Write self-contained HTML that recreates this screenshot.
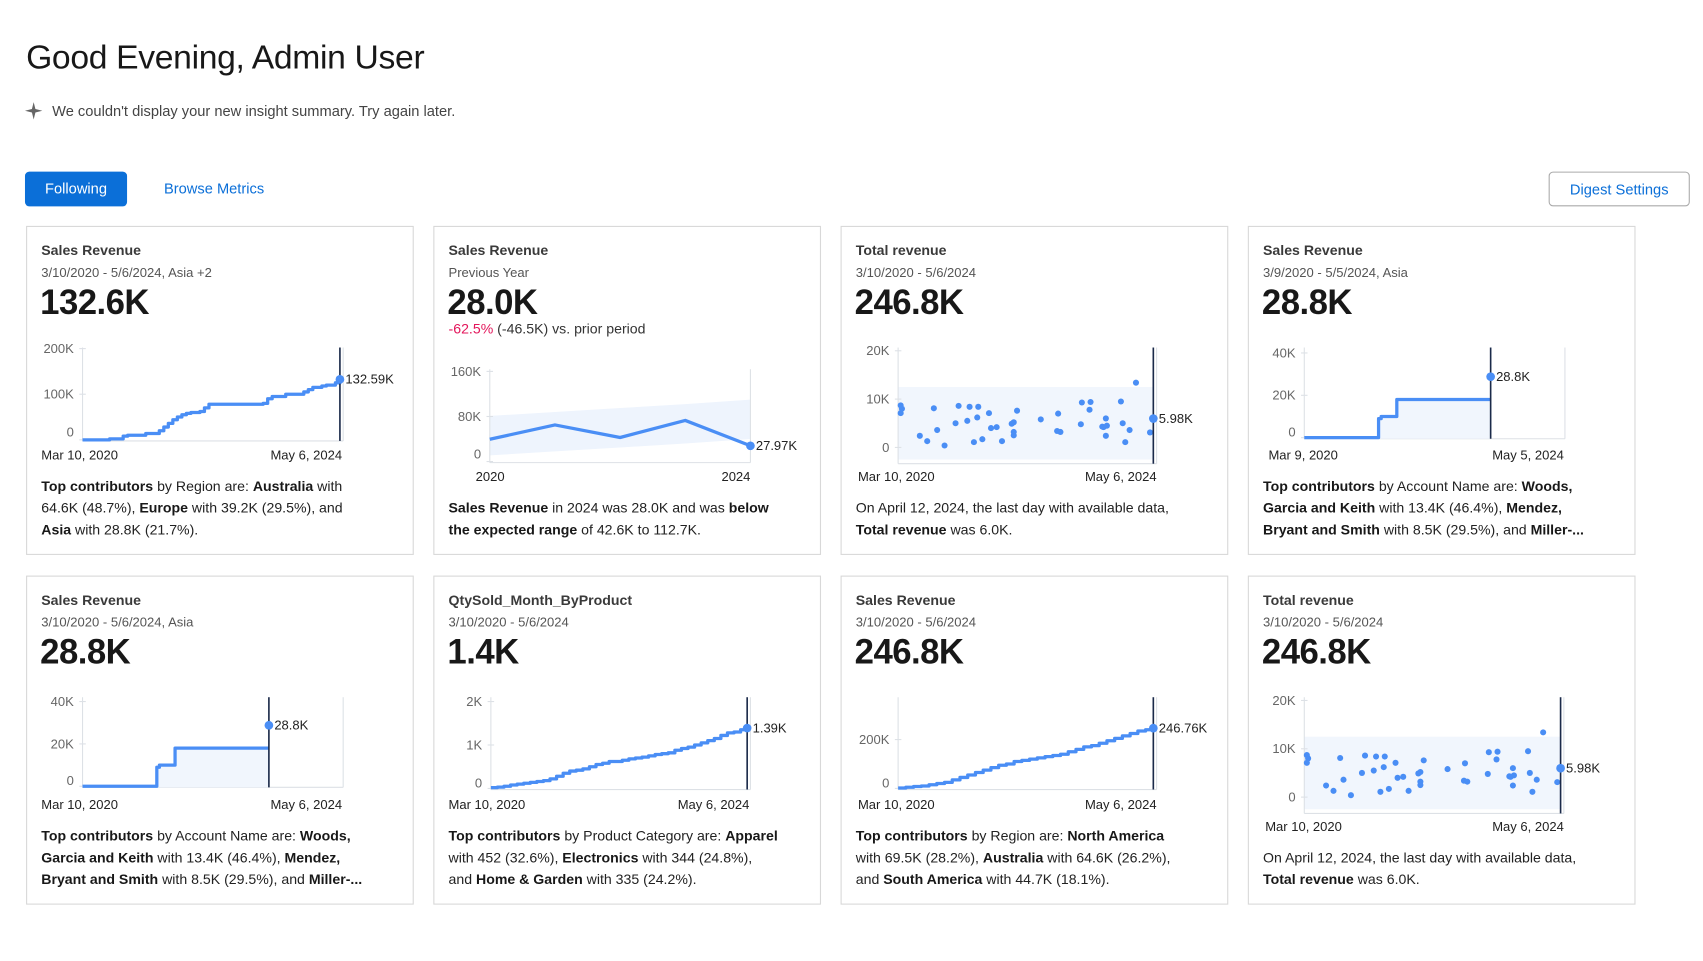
<!DOCTYPE html>
<html><head><meta charset="utf-8">
<style>
html,body{margin:0;padding:0;background:#fff;width:1703px;height:961px;overflow:hidden;}
#wrap{position:absolute;left:0;top:0;width:1570px;height:885px;transform:scale(1.086,1.086);transform-origin:0 0;font-family:"Liberation Sans",Arial,sans-serif;color:#181818;}
.abs{position:absolute;}
h1{position:absolute;left:24px;top:35px;margin:0;font-size:31px;font-weight:400;color:#181818;letter-spacing:-0.3px;}
.note{left:48px;top:95px;font-size:13.5px;color:#444;}
.btn{top:158px;height:32px;line-height:32px;font-size:13.5px;border-radius:4px;text-align:center;box-sizing:border-box;}
.card{position:absolute;width:357px;height:303px;border:1px solid #d8d8d8;box-sizing:border-box;background:#fff;}
.ct{position:absolute;left:13px;top:14px;font-size:13px;font-weight:bold;color:#3a3a3a;}
.cs{position:absolute;left:13px;top:35px;font-size:12px;color:#555;}
.cv{position:absolute;left:12px;top:51px;font-size:32px;font-weight:bold;color:#181818;letter-spacing:-0.5px;}
.cd{position:absolute;left:13px;bottom:12px;width:335px;font-size:13px;line-height:20px;color:#222;white-space:nowrap;}
.cd b{color:#181818;}
svg text{font-family:"Liberation Sans",Arial,sans-serif;}
</style></head>
<body>
<div id="wrap">
<h1>Good Evening, Admin User</h1>
<svg class="abs" style="left:23px;top:94px" width="16" height="16" viewBox="0 0 16 16"><path d="M8 0 L9.6 6.4 L16 8 L9.6 9.6 L8 16 L6.4 9.6 L0 8 L6.4 6.4Z" fill="#666"/></svg>
<div class="abs note">We couldn't display your new insight summary. Try again later.</div>
<div class="abs btn" style="left:23px;width:94px;background:#0b6fd8;color:#fff;">Following</div>
<div class="abs btn" style="left:151px;color:#0b6fd8;">Browse Metrics</div>
<div class="abs btn" style="left:1426px;width:130px;border:1px solid #aaa;color:#0b6fd8;">Digest Settings</div>

<div class="card" style="left:24px;top:208px">
<div class="ct">Sales Revenue</div>
<div class="cs">3/10/2020 - 5/6/2024, Asia +2</div>
<div class="cv">132.6K</div>
<div class="cd"><b>Top contributors</b> by Region are: <b>Australia</b> with<br>64.6K (48.7%), <b>Europe</b> with 39.2K (29.5%), and<br><b>Asia</b> with 28.8K (21.7%).</div>
</div>
<div class="card" style="left:399px;top:208px">
<div class="ct">Sales Revenue</div>
<div class="cs">Previous Year</div>
<div class="cv">28.0K</div>
<div class="abs" style="left:13px;top:86px;font-size:13px;color:#333"><span style="color:#e3165b">-62.5%</span> (-46.5K) vs. prior period</div>
<div class="cd"><b>Sales Revenue</b> in 2024 was 28.0K and was <b>below</b><br><b>the expected range</b> of 42.6K to 112.7K.</div>
</div>
<div class="card" style="left:774px;top:208px">
<div class="ct">Total revenue</div>
<div class="cs">3/10/2020 - 5/6/2024</div>
<div class="cv">246.8K</div>
<div class="cd">On April 12, 2024, the last day with available data,<br><b>Total revenue</b> was 6.0K.</div>
</div>
<div class="card" style="left:1149px;top:208px">
<div class="ct">Sales Revenue</div>
<div class="cs">3/9/2020 - 5/5/2024, Asia</div>
<div class="cv">28.8K</div>
<div class="cd"><b>Top contributors</b> by Account Name are: <b>Woods,</b><br><b>Garcia and Keith</b> with 13.4K (46.4%), <b>Mendez,</b><br><b>Bryant and Smith</b> with 8.5K (29.5%), and <b>Miller-...</b></div>
</div>
<div class="card" style="left:24px;top:530px">
<div class="ct">Sales Revenue</div>
<div class="cs">3/10/2020 - 5/6/2024, Asia</div>
<div class="cv">28.8K</div>
<div class="cd"><b>Top contributors</b> by Account Name are: <b>Woods,</b><br><b>Garcia and Keith</b> with 13.4K (46.4%), <b>Mendez,</b><br><b>Bryant and Smith</b> with 8.5K (29.5%), and <b>Miller-...</b></div>
</div>
<div class="card" style="left:399px;top:530px">
<div class="ct">QtySold_Month_ByProduct</div>
<div class="cs">3/10/2020 - 5/6/2024</div>
<div class="cv">1.4K</div>
<div class="cd"><b>Top contributors</b> by Product Category are: <b>Apparel</b><br>with 452 (32.6%), <b>Electronics</b> with 344 (24.8%),<br>and <b>Home &amp; Garden</b> with 335 (24.2%).</div>
</div>
<div class="card" style="left:774px;top:530px">
<div class="ct">Sales Revenue</div>
<div class="cs">3/10/2020 - 5/6/2024</div>
<div class="cv">246.8K</div>
<div class="cd"><b>Top contributors</b> by Region are: <b>North America</b><br>with 69.5K (28.2%), <b>Australia</b> with 64.6K (26.2%),<br>and <b>South America</b> with 44.7K (18.1%).</div>
</div>
<div class="card" style="left:1149px;top:530px">
<div class="ct">Total revenue</div>
<div class="cs">3/10/2020 - 5/6/2024</div>
<div class="cv">246.8K</div>
<div class="cd">On April 12, 2024, the last day with available data,<br><b>Total revenue</b> was 6.0K.</div>
</div>

<svg id="charts" class="abs" style="left:0;top:0" width="1570" height="885"></svg>
</div>
<script>
// ---- data ----
const c1Values = [0,0,0,0,0,0,2,2,2,8,10,10,10,10,14,14,14,20,28,36,44,50,55,58,60,60,62,70,78,78,78,78,78,78,78,78,78,78,78,78,80,90,95,95,95,100,100,100,100,105,110,115,115,118,120,120,125,132.59];
const c1Ticks = [0,100,200];
const c1TickLabels = ["0","100K","200K"];
const c1XLabels = ["Mar 10, 2020","May 6, 2024"];
const c1EndLabel = "132.59K";

const c2Years = ["2020","2021","2022","2023","2024"];
const c2Values = [39.6,65,42.7,73,27.97];
const c2BandUpper = [81,88,95,102,110];
const c2BandLower = [11,18,25,32,40];
const c2Ticks = [0,80,160];
const c2TickLabels = ["0","80K","160K"];
const c2EndLabel = "27.97K";

const scatterTimes = [1,1,1.5,8.5,11.4,14,15.3,18.2,22.5,23.7,27.1,28,29.7,31.4,31,33,35.6,36.4,38.6,40.7,44.5,45.3,45.3,45.3,46.6,55.9,62.3,63.6,62.7,71.6,72,75,75.4,80,81.4,81.4,81.8,80.5,87.3,88,89,90.7,93.2,98.7];
const scatterValues = [7.1,8.7,8,2.4,1.3,8.1,3.6,0.4,5,8.6,5.5,8.4,1.1,8.4,6.2,1.7,7.1,4,4.2,1.3,4.9,3.2,2.5,5.2,7.6,5.8,3.4,3.2,7,4.8,9.3,7.8,9.4,4.3,2.4,6,4.5,4.2,9.5,5,1.1,3.6,13.4,3.1];
const scatterTicks = [0,10,20];
const scatterTickLabels = ["0","10K","20K"];
const scatterEnd = 5.98;
const scatterEndLabel = "5.98K";

const c4Times = [0,28.5,29.5,35.5,71.5];
const c4Values = [0,9,10,18,18];
const c4End = 28.8;
const c4Ticks = [0,20,40];
const c4TickLabels = ["0","20K","40K"];
const c4EndLabel = "28.8K";

const c6Values = [0.02,0.03,0.05,0.08,0.1,0.12,0.14,0.16,0.18,0.22,0.28,0.35,0.4,0.42,0.45,0.5,0.55,0.58,0.62,0.62,0.65,0.68,0.7,0.72,0.75,0.78,0.8,0.82,0.88,0.92,0.95,1.0,1.05,1.1,1.15,1.22,1.28,1.3,1.35,1.39];
const c6Ticks = [0,1,2];
const c6TickLabels = ["0","1K","2K"];
const c6EndLabel = "1.39K";

const c7Values = [2,5,8,10,15,20,25,35,45,55,65,75,85,95,100,110,115,120,125,130,135,140,150,160,170,175,185,195,205,215,225,235,240,246.76];
const c7Ticks = [0,200];
const c7TickLabels = ["0","200K"];
const c7EndLabel = "246.76K";

// ---- drawing ----
const NS = "http://www.w3.org/2000/svg";
const svg = document.getElementById('charts');
const BLUE = "#4a8ef5", NAVY = "#1b2a4a", GRID = "#dde1e6";
function mk(tag, attrs, parent){ const e=document.createElementNS(NS,tag); for(const k in attrs) e.setAttribute(k,attrs[k]); (parent||svg).appendChild(e); return e; }
function axes(cfg){
  const x = t => cfg.x0 + (cfg.x1 - cfg.x0) * t / 100;
  const y = v => cfg.yZero - (cfg.yZero - cfg.yMaxPx) * v / cfg.max;
  return {x,y};
}
function frame(cfg, A, ticks, labels, xl){
  const g = mk('g',{});
  
  
  mk('line',{x1:cfg.x0,y1:cfg.yTopLine,x2:cfg.x0,y2:cfg.yBottom,stroke:GRID,'stroke-width':1},g);
  mk('line',{x1:cfg.x0,y1:cfg.yBottom,x2:cfg.right,y2:cfg.yBottom,stroke:GRID,'stroke-width':1},g);
  mk('line',{x1:cfg.right,y1:cfg.yTopLine,x2:cfg.right,y2:cfg.yBottom,stroke:GRID,'stroke-width':1},g);
  ticks.forEach((t,i)=>{
    const ty = A.y(t);
    mk('line',{x1:cfg.x0-3,y1:ty,x2:cfg.x0+3,y2:ty,stroke:GRID},g);
    const tx = mk('text',{x:cfg.x0-8,y:ty+4-(t===0?cfg.zeroLift:0),'text-anchor':'end','font-size':12,fill:'#666'},g);
    tx.textContent = labels[i];
    
    
  });
  xl.forEach((l,i)=>{
    const tx = mk('text',{x:i===0?cfg.xlLeft:cfg.xlRight,y:cfg.xlY,'text-anchor':i===0?'start':'end','font-size':12,fill:'#222'},g);
    tx.textContent = l;
    
    
  });
}
function endMarker(cfg, px, py, label, navy){
  if(navy){
    const vl = mk('line',{x1:px,y1:cfg.yTopLine,x2:px,y2:cfg.yBottom,stroke:NAVY,'stroke-width':1.5});
    
    
  }
  const c = mk('circle',{cx:px,cy:py,r:4,fill:BLUE});
  
  
  const t = mk('text',{x:px+5,y:py+4,'font-size':12,fill:'#222'});
  t.textContent = label;
  
  
}
function stepChart(cfg, times, values, ticks, labels, xl, endLabel, endValue, endT){
  const A = axes(cfg);
  frame(cfg, A, ticks, labels, xl);
  let d = "";
  for(let i=0;i<values.length;i++){
    const px = A.x(times[i]), py = A.y(values[i]);
    if(i===0) d += "M"+px+","+py; else d += " V"+py;
    const nx = i+1<values.length ? A.x(times[i+1]) : A.x(endT);
    d += " H"+nx;
  }
  if(cfg.fill){
    const fp = mk('path',{d:d+" V"+cfg.yBottom+" H"+A.x(times[0])+"Z",fill:"#f1f6fd"});
    
    
  }
  const p = mk('path',{d:d,fill:'none',stroke:BLUE,'stroke-width':3,'stroke-linejoin':'round'});
  
  
  endMarker(cfg, A.x(endT), A.y(endValue), endLabel, true);
}
function idxTimes(n){ const a=[]; for(let i=0;i<n;i++) a.push(i*100/(n-1)); return a; }

// chart 1
stepChart({name:'sales-revenue-chart',x0:76,x1:313,right:316,yZero:405,yMaxPx:321,max:200,yTopLine:320,yBottom:406,zeroLift:7,xlLeft:38,xlRight:315,xlY:423},
  idxTimes(c1Values.length), c1Values, c1Ticks, c1TickLabels, c1XLabels, c1EndLabel, c1Values[c1Values.length-1], 100);

// chart 2 - line with band
(function(){
  const cfg={name:'previous-year-chart',x0:451,x1:691,right:691,yZero:425,yMaxPx:342,max:160,yTopLine:340,yBottom:426,zeroLift:7,xlLeft:438,xlRight:691,xlY:443};
  const A = axes(cfg);
  const tx = i => i*100/(c2Years.length-1);
  let band = "";
  c2BandUpper.forEach((v,i)=>{ band += (i?" L":"M")+A.x(tx(i))+","+A.y(v); });
  for(let i=c2BandLower.length-1;i>=0;i--) band += " L"+A.x(tx(i))+","+A.y(c2BandLower[i]);
  const b = mk('path',{d:band+"Z",fill:"#eef4fd"});
  
  
  frame(cfg, A, c2Ticks, c2TickLabels, [c2Years[0], c2Years[c2Years.length-1]]);
  let d="";
  c2Values.forEach((v,i)=>{ d += (i?" L":"M")+A.x(tx(i))+","+A.y(v); });
  const p = mk('path',{d:d,fill:'none',stroke:BLUE,'stroke-width':3,'stroke-linejoin':'round'});
  
  
  endMarker(cfg, A.x(100), A.y(c2Values[c2Values.length-1]), c2EndLabel, false);
})();

// scatter charts
function scatter(cfg){
  const A = axes(cfg);
  const r = mk('rect',{x:cfg.x0,y:A.y(12.5),width:cfg.x1-cfg.x0,height:A.y(-2.5)-A.y(12.5),fill:"#f1f6fd"});
  
  
  frame(cfg, A, scatterTicks, scatterTickLabels, c1XLabels);
  scatterValues.forEach((v,i)=>{
    const c = mk('circle',{cx:A.x(scatterTimes[i]),cy:A.y(v),r:2.8,fill:BLUE});
    
    
  });
  endMarker(cfg, A.x(100), A.y(scatterEnd), scatterEndLabel, true);
}
scatter({name:'total-revenue-chart',x0:827,x1:1062,right:1065,yZero:412,yMaxPx:323,max:20,yTopLine:320,yBottom:427,zeroLift:0,xlLeft:790,xlRight:1065,xlY:443});
scatter({name:'total-revenue-chart-2',x0:1201,x1:1437,right:1440,yZero:734,yMaxPx:645,max:20,yTopLine:642,yBottom:749,zeroLift:0,xlLeft:1165,xlRight:1440,xlY:765});

// chart 4 & 5
stepChart({name:'sales-revenue-asia-chart',x0:1201,x1:1441,right:1441,yZero:403,yMaxPx:325,max:40,yTopLine:320,yBottom:404,zeroLift:5,fill:true,xlLeft:1168,xlRight:1440,xlY:423},
  c4Times, c4Values, c4Ticks, c4TickLabels, ["Mar 9, 2020","May 5, 2024"], c4EndLabel, c4End, c4Times[c4Times.length-1]);
stepChart({name:'sales-revenue-asia-chart-2',x0:76,x1:316,right:316,yZero:724,yMaxPx:646,max:40,yTopLine:642,yBottom:725,zeroLift:5,fill:true,xlLeft:38,xlRight:315,xlY:745},
  c4Times, c4Values, c4Ticks, c4TickLabels, c1XLabels, c4EndLabel, c4End, c4Times[c4Times.length-1]);

// chart 6
stepChart({name:'qty-sold-chart',x0:452,x1:688,right:691,yZero:726,yMaxPx:646,max:2,yTopLine:642,yBottom:727,zeroLift:5,xlLeft:413,xlRight:690,xlY:745},
  idxTimes(c6Values.length), c6Values, c6Ticks, c6TickLabels, c1XLabels, c6EndLabel, c6Values[c6Values.length-1], 100);

// chart 7
stepChart({name:'sales-revenue-region-chart',x0:827,x1:1062,right:1065,yZero:726,yMaxPx:681,max:200,yTopLine:642,yBottom:727,zeroLift:5,xlLeft:790,xlRight:1065,xlY:745},
  idxTimes(c7Values.length), c7Values, c7Ticks, c7TickLabels, c1XLabels, c7EndLabel, c7Values[c7Values.length-1], 100);
</script>
</body></html>
